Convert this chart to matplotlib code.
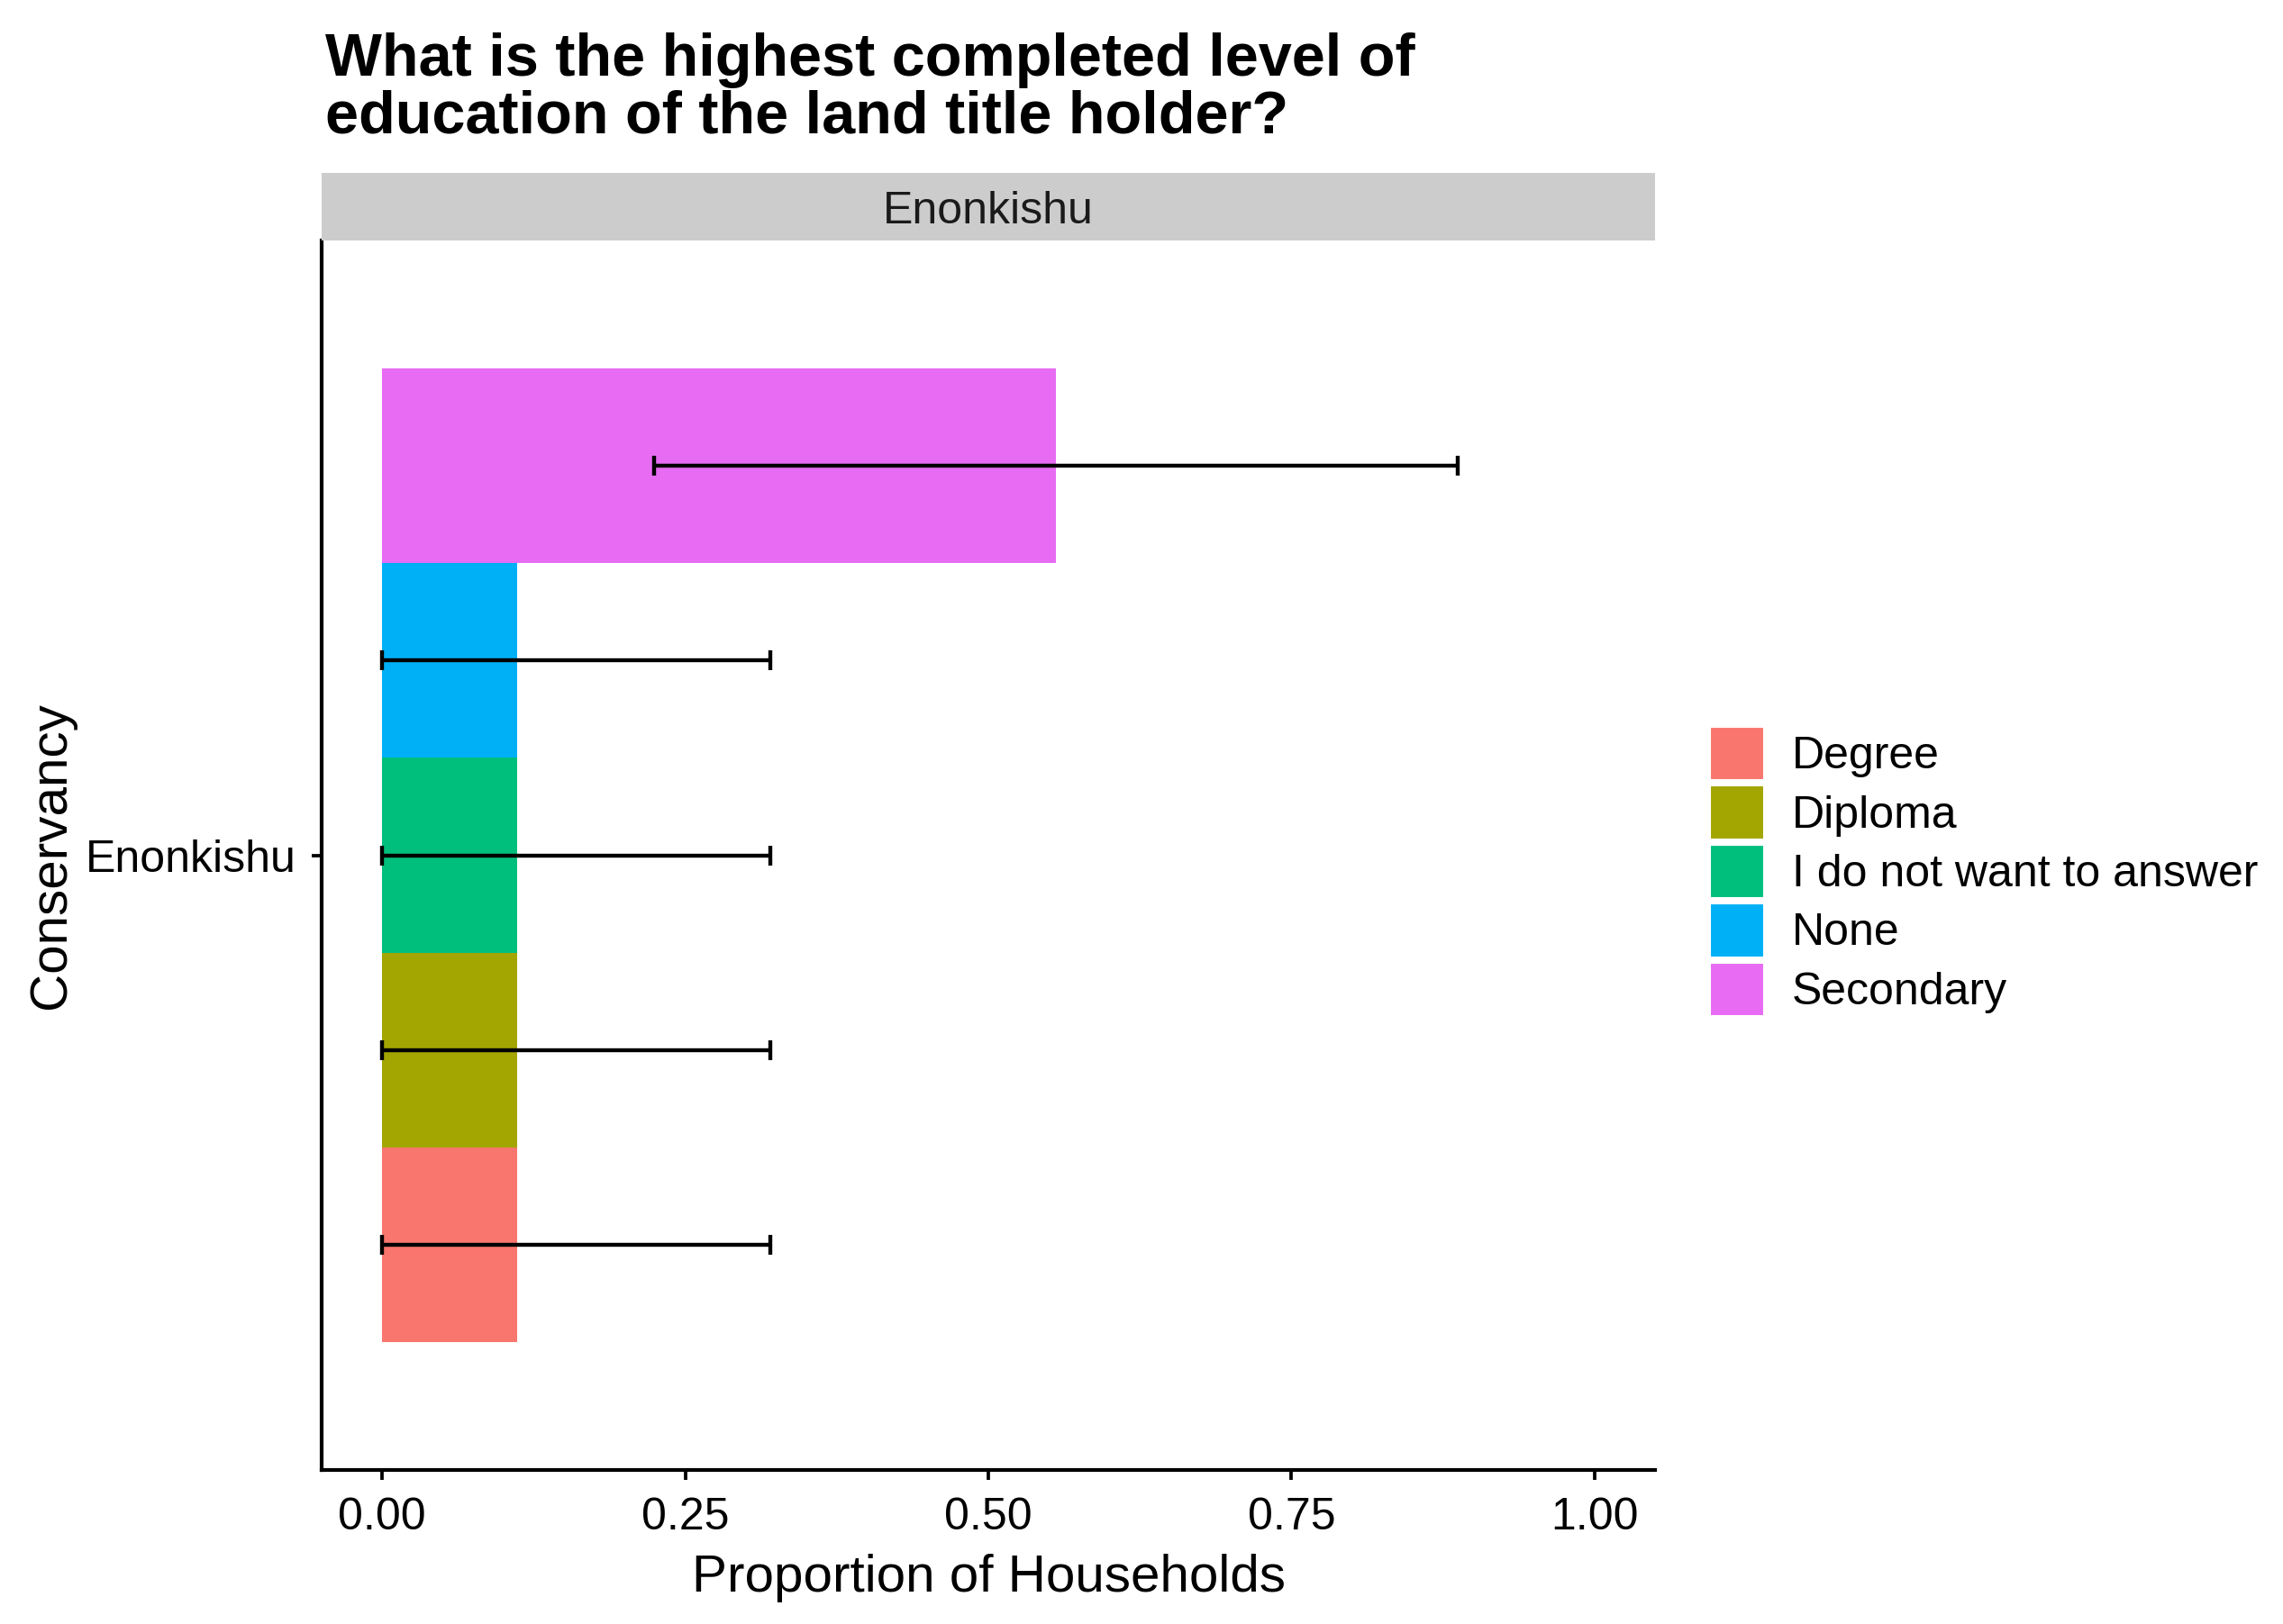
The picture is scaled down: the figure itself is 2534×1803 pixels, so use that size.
import matplotlib
matplotlib.use("Agg")
import matplotlib.pyplot as plt
from matplotlib.patches import Patch

plt.rcParams['font.family'] = ['Liberation Sans', 'DejaVu Sans']

# Dados
conservancy = "Enonkishu"
levels = ["Degree", "Diploma", "I do not want to answer", "None", "Secondary"]
proportion = [0.111, 0.111, 0.111, 0.111, 0.556]
ci_low = [0.0, 0.0, 0.0, 0.0, 0.224]
ci_high = [0.320, 0.320, 0.320, 0.320, 0.887]
colors = ["#F8766D", "#A3A500", "#00BF7D", "#00B0F6", "#E76BF3"]

W, H = 2534, 1803
fig = plt.figure(figsize=(W / 300, H / 300), dpi=300)

# Área do painel (em pixels da figura)
left, right, top, bottom = 357, 1837, 267, 1632
ax = fig.add_axes([left / W, 1 - bottom / H, (right - left) / W, (bottom - top) / H])

# Barras lado a lado (dodge) ao redor de y = 1
dodge = 0.9
bar_h = dodge / len(levels)
for i, (lev, val, lo, hi, col) in enumerate(zip(levels, proportion, ci_low, ci_high, colors)):
    y = 1 - dodge / 2 + bar_h * (i + 0.5)
    ax.barh(y, val, height=bar_h, color=col, label=lev)
    ax.errorbar(val, y, xerr=[[val - lo], [hi - val]], fmt='none', ecolor='black',
                elinewidth=1.05, capsize=2.6, capthick=1.05)

ax.set_xlim(-0.05, 1.05)
ax.set_ylim(1 - 0.568, 1 + 0.568)
ax.set_xticks([0, 0.25, 0.5, 0.75, 1.0])
ax.set_xticklabels(["0.00", "0.25", "0.50", "0.75", "1.00"])
ax.set_yticks([1])
ax.set_yticklabels([conservancy])

for s in ['top', 'right']:
    ax.spines[s].set_visible(False)
for s in ['left', 'bottom']:
    ax.spines[s].set_linewidth(1.0)
ax.tick_params(axis='both', length=2.75, width=0.9, labelsize=12, colors='black')
ax.tick_params(axis='x', pad=4.5)
ax.tick_params(axis='y', pad=4)

ax.set_xlabel("Proportion of Households", fontsize=14, labelpad=4)
ax.set_ylabel("Conservancy", fontsize=14, labelpad=2.7)

# Faixa do facet
strip = fig.add_axes([left / W, 1 - top / H, (right - left) / W, 75 / H])
strip.set_facecolor("#CCCCCC")
strip.set_xticks([])
strip.set_yticks([])
for s in strip.spines.values():
    s.set_visible(False)
strip.text(0.5, 0.42, conservancy, ha='center', va='center', fontsize=12, color='#1A1A1A')

# Título (va='baseline' alinha a última linha)
fig.text(361 / W, 1 - 147 / H, "What is the highest completed level of\neducation of the land title holder?",
         ha='left', va='baseline', fontsize=16, fontweight='bold', linespacing=1.03)

# Legenda
handles = [Patch(facecolor=c, edgecolor='white', linewidth=0.5) for c in colors]
fig.legend(handles, levels, loc='upper left', bbox_to_anchor=(1898 / W, 1 - 807 / H),
           frameon=False, fontsize=12, handlelength=1.2, handleheight=1.45,
           handletextpad=0.62, labelspacing=0.12, borderaxespad=0, borderpad=0)

fig.savefig("out.png", dpi=300)
